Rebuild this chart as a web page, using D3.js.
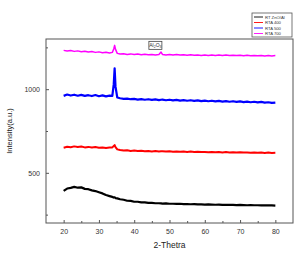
<!DOCTYPE html>
<html><head><meta charset="utf-8">
<script src="https://cdn.jsdelivr.net/npm/d3@7"></script>
<style>body{margin:0;background:#fff;}svg{display:block;font-family:"Liberation Sans",Arial,sans-serif;}</style>
</head><body>
<script>
const theta = [20,21,22,23,24,25,26,27,28,29,30,31,32,33,33.8,34.2,34.45,34.7,35.2,36,37,38,39,40,41,42,43,44,45,46,47,47.6,48,49,50,51,52,53,54,55,56,57,58,59,60,61,62,63,64,65,66,67,68,69,70,71,72,73,74,75,76,77,78,79,80];
const rtZnOAl = [392,406,410,416,411,413,404,402,395,391,384,377,367,361,356,352,354,349,347,342,339,333,332,327,327,323,323,320,320,318,318,317,316,317,315,315,314,315,313,313,312,313,311,311,310,311,310,309,310,308,309,308,308,307,308,307,306,307,306,306,305,306,305,305,304];
const rta400 = [650,656,653,658,654,657,652,655,651,654,650,652,648,651,652,660,666,654,640,636,633,635,631,633,630,632,629,631,628,630,628,629,629,627,629,626,628,626,627,625,627,624,626,624,625,623,625,623,624,622,624,622,623,621,623,621,622,620,622,620,621,619,621,619,620];
const rta500 = [960,968,962,967,961,966,960,964,959,965,958,963,957,961,960,1030,1125,1015,950,946,942,944,940,942,938,941,937,940,936,939,935,937,938,934,937,933,936,932,935,931,934,930,933,929,932,928,931,927,930,926,929,925,928,924,927,923,926,922,925,921,924,920,922,918,920];
const rta700 = [1232,1228,1231,1226,1229,1224,1227,1222,1225,1220,1223,1218,1221,1216,1220,1240,1262,1238,1214,1210,1212,1208,1211,1207,1210,1206,1209,1206,1208,1205,1208,1222,1208,1205,1208,1204,1207,1204,1206,1203,1206,1203,1205,1202,1205,1202,1204,1202,1204,1201,1204,1201,1203,1201,1203,1200,1203,1200,1202,1200,1202,1199,1202,1199,1201];
const seriesNames = ["RT ZnO/Al","RTA 400","RTA 500","RTA 700"];
const seriesColors = ["#000000","#ff0000","#0000ff","#ff00ff"];
const seriesWidths = [2.2,2,2.2,1.5];
const xTicks = [20,30,40,50,60,70,80];
const xMinor = [25,35,45,55,65,75];
const yTicks = [500,1000];
const yMinor = [250,750,1250];
const annotation = {x:46, y:1265, text:"Al2O3"};

const W=298,H=253;
const m={l:46,r:5,t:39,b:30};
const svg=d3.select("body").append("svg").attr("width",W).attr("height",H);
const x=d3.scaleLinear().domain([15,85]).range([m.l,W-m.r]);
const y=d3.scaleLinear().domain([200,1300]).range([H-m.b,m.t]);
const frameColor="#555";

const allSeries=[rtZnOAl,rta400,rta500,rta700];
const line=d3.line().x((d,i)=>x(theta[i])).y(d=>y(d));
allSeries.forEach((s,k)=>{
  svg.append("path").datum(s).attr("d",line).attr("fill","none")
    .attr("stroke",seriesColors[k]).attr("stroke-width",seriesWidths[k]).attr("stroke-linejoin","round");
});

// frame
svg.append("rect").attr("x",m.l).attr("y",m.t).attr("width",W-m.r-m.l).attr("height",H-m.b-m.t)
  .attr("fill","none").attr("stroke",frameColor).attr("stroke-width",1);

// x axis
const xa=svg.append("g").attr("transform",`translate(0,${H-m.b})`)
  .call(d3.axisBottom(x).tickValues(xTicks).tickSize(-3).tickPadding(6).tickFormat(d3.format("d")));
xa.select(".domain").remove();
xa.selectAll("line").attr("stroke",frameColor);
xa.selectAll("text").attr("font-size",7).attr("fill","#333").attr("font-family","Liberation Sans, Arial, sans-serif");
const xm=svg.append("g").attr("transform",`translate(0,${H-m.b})`)
  .call(d3.axisBottom(x).tickValues(xMinor).tickSize(-2).tickFormat(""));
xm.select(".domain").remove();
xm.selectAll("line").attr("stroke",frameColor);

// y axis
const ya=svg.append("g").attr("transform",`translate(${m.l},0)`)
  .call(d3.axisLeft(y).tickValues(yTicks).tickSize(-3).tickPadding(6).tickFormat(d3.format("d")));
ya.select(".domain").remove();
ya.selectAll("line").attr("stroke",frameColor);
ya.selectAll("text").attr("font-size",7).attr("fill","#333").attr("font-family","Liberation Sans, Arial, sans-serif");
const ym=svg.append("g").attr("transform",`translate(${m.l},0)`)
  .call(d3.axisLeft(y).tickValues(yMinor).tickSize(-2).tickFormat(""));
ym.select(".domain").remove();
ym.selectAll("line").attr("stroke",frameColor);

// axis titles
svg.append("text").attr("x",(x(15)+x(85))/2).attr("y",248).attr("text-anchor","middle")
  .attr("font-size",8.5).attr("fill","#222").text("2-Thetra");
svg.append("text").attr("transform",`translate(12,${(m.t+H-m.b)/2}) rotate(-90)`).attr("text-anchor","middle")
  .attr("font-size",7.5).attr("fill","#222").text("Intensity(a.u.)");

// annotation
const ag=svg.append("g");
const at=ag.append("text").attr("x",x(annotation.x)).attr("y",y(annotation.y)+2).attr("text-anchor","middle")
  .attr("font-size",5).attr("fill","#333");
at.append("tspan").text("Al");
at.append("tspan").attr("font-size",3.5).attr("dy",1).text("2");
at.append("tspan").attr("dy",-1).text("O");
at.append("tspan").attr("font-size",3.5).attr("dy",1).text("3");
ag.insert("rect","text").attr("x",x(annotation.x)-6.5).attr("y",y(annotation.y)-3.5).attr("width",13).attr("height",8)
  .attr("fill","#fff").attr("stroke","#444").attr("stroke-width",0.8);

// legend
const lg=svg.append("g").attr("transform","translate(252,13)");
lg.append("rect").attr("width",40).attr("height",24).attr("fill","#fff").attr("stroke","#555").attr("stroke-width",0.8);
seriesNames.forEach((n,i)=>{
  const yy=4+i*5.5;
  lg.append("line").attr("x1",2).attr("x2",11).attr("y1",yy).attr("y2",yy).attr("stroke",seriesColors[i]).attr("stroke-width",0.9);
  lg.append("text").attr("x",13).attr("y",yy+1.5).attr("font-size",4.2).attr("fill","#333").text(n);
});
</script>
</body></html>
